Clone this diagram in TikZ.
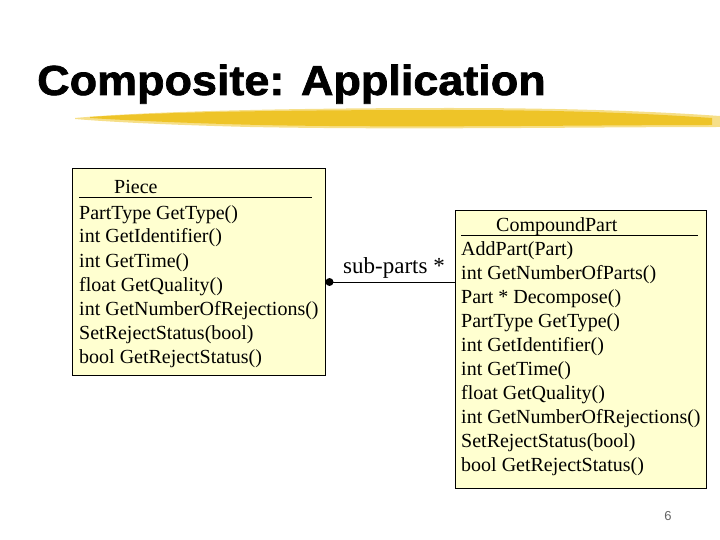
\documentclass[tikz,border=0pt]{standalone}
\usepackage{fontspec}
\setmainfont{Liberation Serif}
\newfontfamily\titlefont{Liberation Sans}[BoldFeatures={FakeBold=1.6}]
\newfontfamily\pagefont{Liberation Sans}
\begin{document}
\begin{tikzpicture}[x=1pt,y=-1pt,
  classbox/.style={draw=black, line width=0.8pt, fill={rgb,255:red,255;green,255;blue,208}, anchor=north west, inner sep=0pt},
  member/.style={anchor=base west, inner sep=0pt, font=\fontsize{20}{22}\selectfont},
  brush/.style={fill={rgb,255:red,238;green,196;blue,40}, draw=none}]
\useasboundingbox (0,0) rectangle (720,540);
% title
\node[anchor=base west, inner sep=0pt, xscale=1.07, font=\titlefont\bfseries\fontsize{42}{46}\selectfont] (title) at (37,95) {Composite: Application};
% brush stroke
\fill[brush, opacity=0.55] (75,118) .. controls (150,111) and (300,108) .. (450,108) .. controls (560,108) and (650,111) .. (720,116) -- (720,127) .. controls (600,127) and (400,130) .. (250,127) .. controls (170,125) and (110,122) .. (75,119) -- cycle;
\fill[brush] (90,117) .. controls (180,111) and (320,110) .. (450,110) .. controls (560,110) and (640,113) .. (712,118) -- (712,125) .. controls (600,125) and (400,128) .. (260,125) .. controls (180,123) and (120,120) .. (90,118) -- cycle;
% Piece box
\node[classbox, minimum width=253, minimum height=207] (piece) at (72,168) {};
\node[member] (p0) at (114,194) {Piece};
\draw[line width=0.8pt] (79,197.5) -- (312,197.5);
\node[member] (p1) at (79,219) {PartType GetType()};
\node[member] (p2) at (79,243) {int GetIdentifier()};
\node[member] (p3) at (79,267) {int GetTime()};
\node[member] (p4) at (79,291) {float GetQuality()};
\node[member] (p5) at (79,315) {int GetNumberOfRejections()};
\node[member] (p6) at (79,339) {SetRejectStatus(bool)};
\node[member] (p7) at (79,363) {bool GetRejectStatus()};
% CompoundPart box
\node[classbox, minimum width=251, minimum height=278] (compound) at (455,210) {};
\node[member] (c0) at (496,232) {CompoundPart};
\draw[line width=0.8pt] (461,235.5) -- (698,235.5);
\node[member] (c1) at (461,255) {AddPart(Part)};
\node[member] (c2) at (461,279) {int GetNumberOfParts()};
\node[member] (c3) at (461,303) {Part * Decompose()};
\node[member] (c4) at (461,327) {PartType GetType()};
\node[member] (c5) at (461,351) {int GetIdentifier()};
\node[member] (c6) at (461,375) {int GetTime()};
\node[member] (c7) at (461,399) {float GetQuality()};
\node[member] (c8) at (461,423) {int GetNumberOfRejections()};
\node[member] (c9) at (461,447) {SetRejectStatus(bool)};
\node[member] (c10) at (461,471) {bool GetRejectStatus()};
% connector
\node[circle, fill=black, inner sep=0pt, minimum size=8] (dot) at (329.5,282) {};
\draw[line width=0.8pt] (dot.center) -- (compound.west |- dot.center);
\node[member, font=\fontsize{23}{26}\selectfont] (lbl) at (343,273) {sub-parts *};
% page number
\node[anchor=base, inner sep=0pt, font=\pagefont\fontsize{13}{15}\selectfont, text={rgb,255:red,100;green,100;blue,100}] (pg) at (668,520) {6};
\end{tikzpicture}
\end{document}
